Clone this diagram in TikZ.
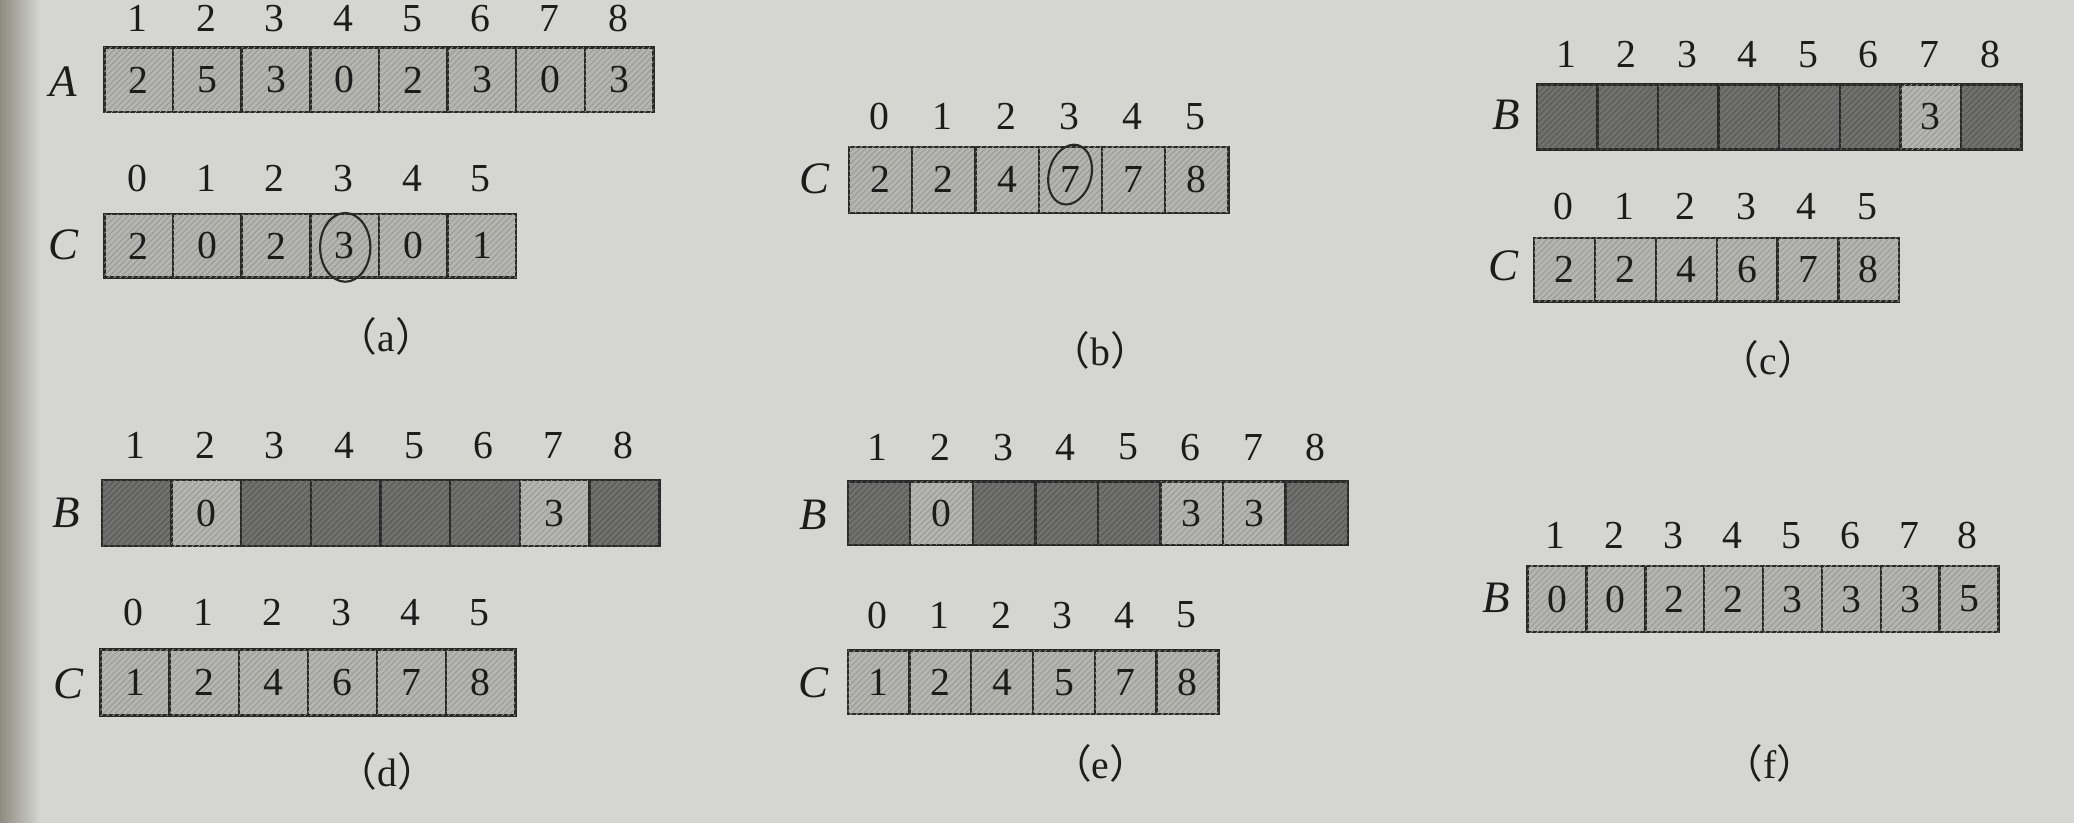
\documentclass[tikz,border=0pt]{standalone}
\usepackage{fontspec}
\setmainfont{Liberation Serif}
\newfontfamily\cjk{Noto Sans CJK SC}
\usetikzlibrary{patterns.meta}
\definecolor{paper}{RGB}{213,213,209}
\definecolor{shadow}{RGB}{140,140,128}
\definecolor{lightcell}{RGB}{180,180,177}
\definecolor{darkcell}{RGB}{112,112,110}
\definecolor{hatchL}{RGB}{150,150,147}
\definecolor{hatchD}{RGB}{85,85,83}
\definecolor{ink}{RGB}{40,40,40}
\definecolor{txt}{RGB}{28,28,28}
\tikzset{
  cellbase/.style={draw=ink, line width=0.9pt, inner sep=0pt, anchor=north west, text=txt},
  cellL/.style={cellbase, fill=lightcell, postaction={pattern={Lines[angle=45,distance=1.6pt,line width=0.3pt]}, pattern color=hatchL}},
  cellD/.style={cellbase, fill=darkcell, postaction={pattern={Lines[angle=45,distance=1.6pt,line width=0.3pt]}, pattern color=hatchD}},
  idx/.style={text=txt, inner sep=0pt},
  arrname/.style={text=txt, inner sep=0pt, font=\fontsize{17}{20}\selectfont\itshape},
  caption/.style={text=txt, inner sep=0pt, font=\fontsize{15}{18}\selectfont},
  circlemark/.style={draw=ink, line width=0.8pt}
}
% #1 name, #2 x0, #3 top, #4 cell width, #5 height, #6 first index, #7 index y, #8 list value/style
\newcommand\cellarray[8]{%
  \foreach \v/\s [count=\i from 0] in {#8}{%
    \pgfmathtruncatemacro\k{\i+#6}%
    \node[cell\s, minimum width={#4*0.5pt}, minimum height={#5*0.5pt}] (#1-\k) at ({#2+\i*#4},#3) {\v};
    \node[idx] (#1-i\k) at ({#2+(\i+0.5)*#4},#7) {\k};
  }%
}
\newcommand\capt[1]{{\cjk （}#1{\cjk ）}}
\begin{document}
\begin{tikzpicture}[x=0.5pt,y=-0.5pt]
\useasboundingbox (0,0) rectangle (1568,622);
\fill[paper] (0,0) rectangle (1568,622);
\shade[left color=shadow, right color=paper] (0,0) rectangle (30,622);

% (a)
\begin{scope}[font=\fontsize{15}{18}\selectfont]
\node[arrname] (aAl) at (48,62) {A};
\cellarray{aA}{78}{35}{51.9}{49}{1}{14}{2/L,5/L,3/L,0/L,2/L,3/L,0/L,3/L}
\node[arrname] (aCl) at (48,185) {C};
\cellarray{aC}{78}{161}{51.9}{48}{0}{135}{2/L,0/L,2/L,3/L,0/L,1/L}
\draw[circlemark] (261,187) ellipse (19 and 26);
\node[caption] (capa) at (292,254) {\capt{a}};
\end{scope}

% (b)
\begin{scope}[font=\fontsize{15}{18}\selectfont]
\node[arrname] (bCl) at (616,135) {C};
\cellarray{bC}{641}{110}{47.8}{50}{0}{88}{2/L,2/L,4/L,7/L,7/L,8/L}
\draw[circlemark, rotate around={-15:(809,132)}] (809,132) ellipse (16 and 23);
\node[caption] (capb) at (832,265) {\capt{b}};
\end{scope}

% (c)
\begin{scope}[font=\fontsize{15}{18}\selectfont]
\node[arrname] (cBl) at (1139,87) {B};
\cellarray{cB}{1161}{63}{45.8}{49}{1}{41}{{}/D,{}/D,{}/D,{}/D,{}/D,{}/D,3/L,{}/D}
\node[arrname] (cCl) at (1137,201) {C};
\cellarray{cC}{1159}{179}{46}{48}{0}{156}{2/L,2/L,4/L,6/L,7/L,8/L}
\node[caption] (capc) at (1337,272) {\capt{c}};
\end{scope}

% (d)
\begin{scope}[font=\fontsize{15}{18}\selectfont]
\node[arrname] (dBl) at (50,388) {B};
\cellarray{dB}{76}{362}{52.7}{50}{1}{337}{{}/D,0/L,{}/D,{}/D,{}/D,{}/D,3/L,{}/D}
\node[arrname] (dCl) at (52,517) {C};
\cellarray{dC}{75}{490}{52.3}{50}{0}{463}{1/L,2/L,4/L,6/L,7/L,8/L}
\node[caption] (capd) at (293,583) {\capt{d}};
\end{scope}

% (e)
\begin{scope}[font=\fontsize{15}{18}\selectfont]
\node[arrname] (eBl) at (615,389) {B};
\cellarray{eB}{640}{363}{47.3}{48}{1}{338}{{}/D,0/L,{}/D,{}/D,{}/D,3/L,3/L,{}/D}
\node[arrname] (eCl) at (615,516) {C};
\cellarray{eC}{640}{491}{46.7}{48}{0}{465}{1/L,2/L,4/L,5/L,7/L,8/L}
\node[caption] (cape) at (832,577) {\capt{e}};
\end{scope}

% (f)
\begin{scope}[font=\fontsize{15}{18}\selectfont]
\node[arrname] (fBl) at (1131,452) {B};
\cellarray{fB}{1154}{427}{44.5}{50}{1}{405}{0/L,0/L,2/L,2/L,3/L,3/L,3/L,5/L}
\node[caption] (capf) at (1338,577) {\capt{f}};
\end{scope}
\end{tikzpicture}
\end{document}
